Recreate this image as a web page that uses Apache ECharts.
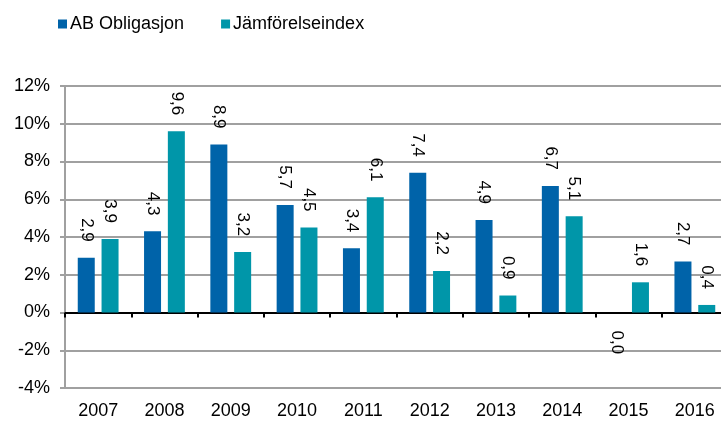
<!DOCTYPE html>
<html>
<head>
<meta charset="utf-8">
<script src="https://cdn.jsdelivr.net/npm/echarts@6/dist/echarts.min.js"></script>
<style>
  html, body { margin: 0; padding: 0; background: #fff; }
  #chart { width: 721px; height: 422px; }
</style>
</head>
<body>
<div id="chart"></div>
<script>
  const years = ['2007', '2008', '2009', '2010', '2011', '2012', '2013', '2014', '2015', '2016']
  const abObligasjon = [2.9, 4.3, 8.9, 5.7, 3.4, 7.4, 4.9, 6.7, 0.0, 2.7]
  const jamforelse = [3.9, 9.6, 3.2, 4.5, 6.1, 2.2, 0.9, 5.1, 1.6, 0.4]

  const font = 'Liberation Sans, Arial, sans-serif'

  // labels sit above the bar, rotated clockwise; a zero value goes below the axis
  function barData(values) {
    return values.map(function (v) {
      if (v === 0) {
        return {
          value: v,
          label: { position: 'bottom', align: 'left', distance: 18 }
        }
      }
      return v
    })
  }

  const labelStyle = {
    show: true,
    position: 'top',
    rotate: -90,
    align: 'right',
    verticalAlign: 'middle',
    distance: 16,
    color: '#000',
    fontFamily: font,
    fontSize: 17,
    formatter: function (p) {
      return p.value.toFixed(1).replace('.', ',')
    }
  }

  const chart = echarts.init(document.getElementById('chart'))
  chart.setOption({
    animation: false,
    backgroundColor: '#fff',
    textStyle: { fontFamily: font },
    legend: {
      left: 53,
      top: 10,
      itemWidth: 9,
      itemHeight: 9,
      itemGap: 37,
      icon: 'rect',
      textStyle: { color: '#000', fontSize: 18, fontFamily: font, padding: [0, 0, 0, -2] },
      data: ['AB Obligasjon', 'Jämförelseindex']
    },
    grid: {
      left: 65,
      top: 86,
      width: 663,
      height: 302,
      containLabel: false,
      outerBoundsMode: 'none'
    },
    xAxis: {
      type: 'category',
      data: years,
      axisLine: { onZero: true, lineStyle: { color: '#000', width: 2 } },
      axisTick: { show: true, length: 5, lineStyle: { color: '#000', width: 2 } },
      axisLabel: { margin: 14, color: '#000', fontSize: 18, fontFamily: font },
      splitLine: { show: false }
    },
    yAxis: {
      type: 'value',
      min: -4,
      max: 12,
      interval: 2,
      axisLine: { show: true, lineStyle: { color: '#a0a0a0', width: 2 } },
      axisTick: { show: true, length: 5, lineStyle: { color: '#a0a0a0', width: 2 } },
      axisLabel: {
        margin: 15,
        color: '#000',
        fontSize: 18,
        fontFamily: font,
        formatter: '{value}%'
      },
      splitLine: { lineStyle: { color: '#a0a0a0', width: 2 } }
    },
    series: [
      {
        name: 'AB Obligasjon',
        type: 'bar',
        barWidth: 17,
        barGap: '40%',
        itemStyle: { color: '#0063a9' },
        label: labelStyle,
        data: barData(abObligasjon)
      },
      {
        name: 'Jämförelseindex',
        type: 'bar',
        barWidth: 17,
        barGap: '40%',
        itemStyle: { color: '#0096a9' },
        label: labelStyle,
        data: barData(jamforelse)
      }
    ]
  })
</script>
</body>
</html>
